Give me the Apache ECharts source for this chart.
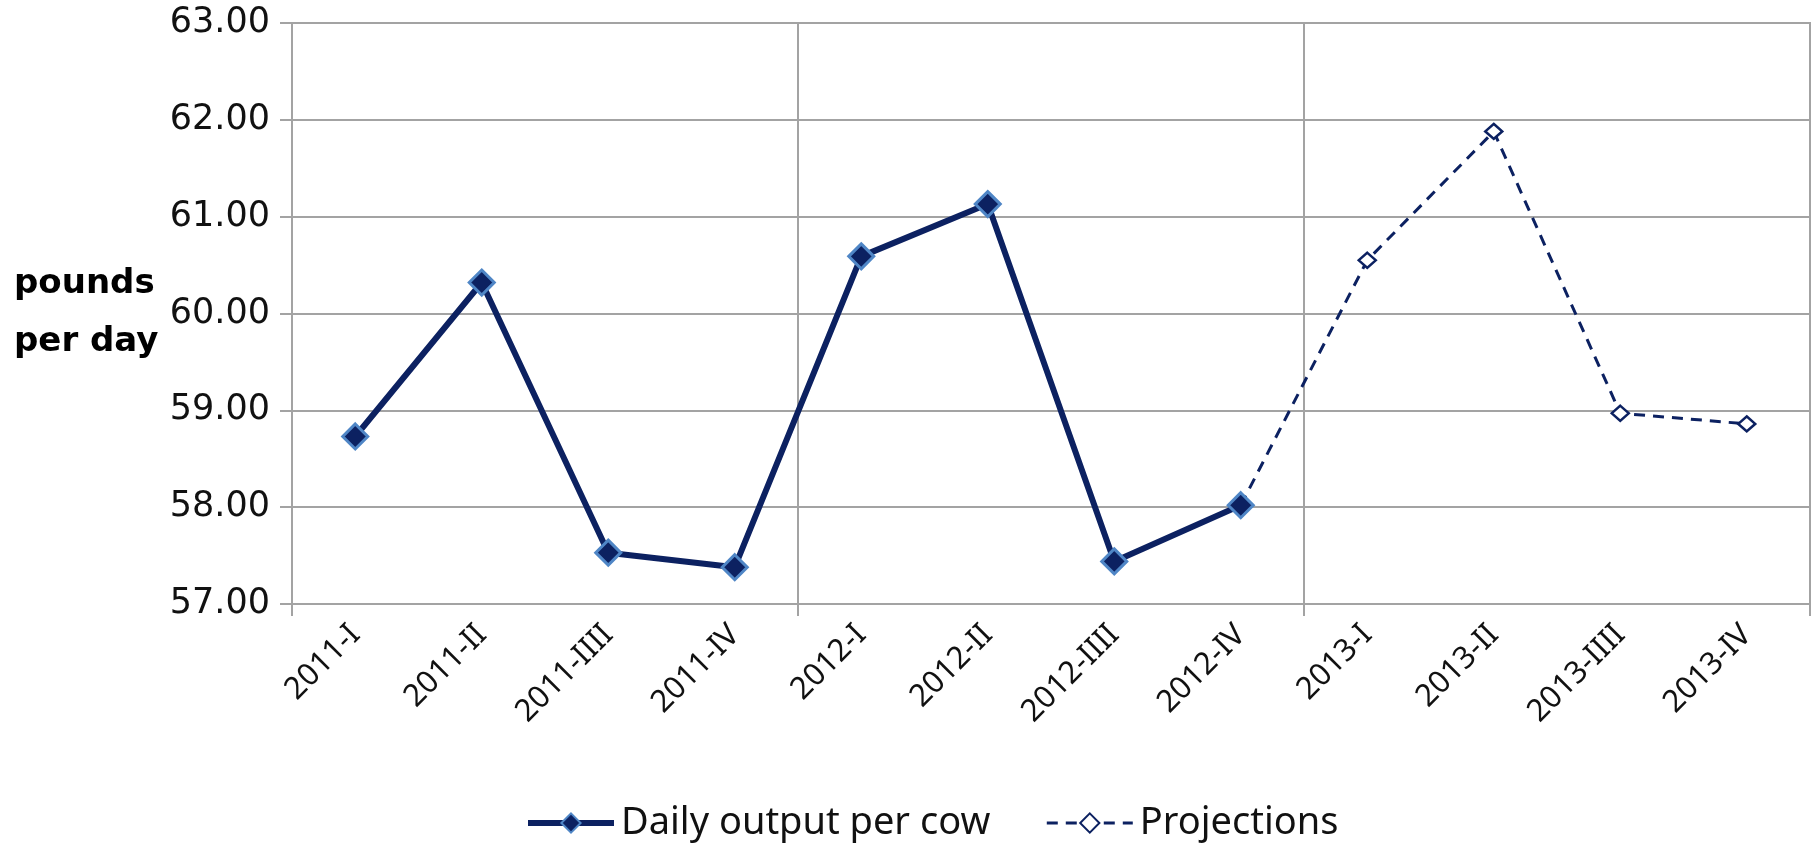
<!doctype html>
<html>
<head>
    <meta charset="utf-8">
    <title>Daily output per cow</title>
    <style>
        html, body { margin: 0; padding: 0; background: #fff; }
        #Chart { width: 1813px; height: 849px; }
    </style>
</head>
<body>
    <div id="Chart"></div>
</body>
</html>
<script src="https://cdn.jsdelivr.net/npm/echarts@6/dist/echarts.min.js"></script>
<script>
    // quarters on the x axis
    var quarters = ['2011-I', '2011-II', '2011-IIII', '2011-IV', '2012-I', '2012-II', '2012-IIII', '2012-IV',
        '2013-I', '2013-II', '2013-IIII', '2013-IV'];
    // pounds per day
    var dailyOutput = [58.73, 60.32, 57.53, 57.38, 60.59, 61.13, 57.44, 58.02, null, null, null, null];
    var projections = [null, null, null, null, null, null, null, 58.02, 60.55, 61.88, 58.97, 58.86];
    var yMin = 57, yMax = 63, yStep = 1;

    var navy = '#0c2161';
    var gridGray = '#a3a3a3';

    // a vertical line every four quarters (one per year)
    function everyYear(index) {
        return index % 4 === 0;
    }

    var myChart = echarts.init(document.getElementById('Chart'));
    var option = {
        animation: false,
        grid: {
            left: 292,
            right: 3,
            top: 23,
            bottom: 245,
            show: true,
            borderColor: gridGray,
            borderWidth: 2
        },
        legend: {
            bottom: 2,
            left: 520,
            itemWidth: 86,
            itemHeight: 24,
            itemGap: 55,
            textStyle: {
                fontFamily: 'Noto Sans',
                fontSize: 38,
                color: '#111',
                padding: [0, 0, 0, 2]
            },
            data: [
                { name: 'Daily output per cow', lineStyle: { width: 6 } },
                { name: 'Projections', lineStyle: { width: 3 } }
            ]
        },
        xAxis: {
            type: 'category',
            boundaryGap: true,
            data: quarters,
            axisLine: { lineStyle: { color: gridGray, width: 2 } },
            axisTick: { show: true, interval: everyYear, length: 12, lineStyle: { color: gridGray, width: 2 } },
            splitLine: { show: true, interval: everyYear, lineStyle: { color: gridGray, width: 2 } },
            axisLabel: {
                interval: 0,
                rotate: 45,
                margin: 26,
                fontFamily: 'Noto Sans',
                fontSize: 31,
                color: '#111'
            }
        },
        yAxis: {
            type: 'value',
            min: yMin,
            max: yMax,
            interval: yStep,
            name: 'pounds\nper day',
            nameLocation: 'middle',
            nameRotate: 0,
            nameGap: 138,
            nameTextStyle: {
                fontFamily: 'DejaVu Sans',
                fontWeight: 'bold',
                fontSize: 34,
                lineHeight: 58,
                color: '#000',
                align: 'left',
                padding: [12, 0, 0, -140]
            },
            axisLine: { show: true, lineStyle: { color: gridGray, width: 2 } },
            axisTick: { show: true, length: 12, lineStyle: { color: gridGray, width: 2 } },
            splitLine: { show: true, lineStyle: { color: gridGray, width: 2 } },
            axisLabel: {
                margin: 22,
                fontFamily: 'DejaVu Sans',
                fontSize: 35,
                color: '#111',
                formatter: function (v) { return v.toFixed(2); }
            }
        },
        series: [
            {
                name: 'Projections',
                type: 'line',
                data: projections,
                z: 2,
                symbol: 'diamond',
                symbolSize: [17, 15],
                showAllSymbol: true,
                connectNulls: false,
                itemStyle: {
                    color: '#fff',
                    borderColor: navy,
                    borderWidth: 2.5
                },
                lineStyle: {
                    color: navy,
                    width: 3,
                    type: [11, 8]
                }
            },
            {
                name: 'Daily output per cow',
                type: 'line',
                data: dailyOutput,
                z: 3,
                symbol: 'diamond',
                symbolSize: 25,
                showAllSymbol: true,
                itemStyle: {
                    color: navy,
                    borderColor: '#4f86c6',
                    borderWidth: 3
                },
                lineStyle: {
                    color: navy,
                    width: 6
                }
            }
        ]
    };
    myChart.setOption(option);
</script>
